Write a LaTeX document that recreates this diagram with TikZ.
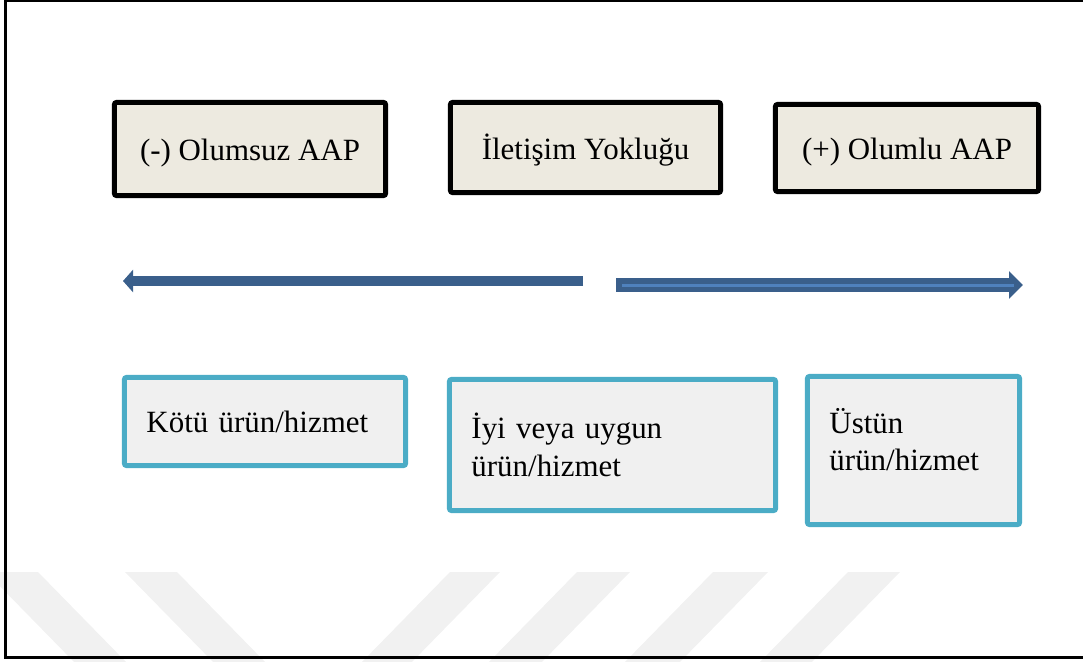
\documentclass[tikz,border=0pt]{standalone}
\usepackage{fontspec}
\setmainfont{Liberation Serif}
\usetikzlibrary{arrows.meta}

\definecolor{topfill}{RGB}{237,234,224}
\definecolor{lowfill}{RGB}{240,240,240}
\definecolor{lowline}{RGB}{75,172,198}
\definecolor{arrowblue}{RGB}{58,95,139}
\definecolor{arrowlight}{RGB}{79,129,189}
\definecolor{wmgray}{RGB}{241,241,241}

\tikzset{
  boxfont/.style={font=\fontsize{22}{27}\selectfont},
  topbox/.style={draw=black, line width=0.125cm, fill=topfill, rounded corners=0.05cm, boxfont, inner sep=0pt, text height=17pt, text depth=0pt},
  lowbox/.style={draw=lowline, line width=0.125cm, fill=lowfill, rounded corners=0.05cm, boxfont, align=left, inner xsep=0.55cm, inner ysep=0pt},
  stripe/.style={fill=wmgray, draw=none},
  leftarrow/.style={draw=arrowblue, line width=0.25cm, -{Triangle[width=0.55cm, length=0.25cm]}},
  rightarrow/.style={draw=arrowblue, line width=0.35cm, -{Triangle[width=0.675cm, length=0.35cm]}},
  innerline/.style={draw=arrowlight, line width=0.075cm},
}

\begin{document}
\begin{tikzpicture}[x=0.025cm, y=-0.025cm]

\path[use as bounding box] (0,0) rectangle (1083,662);

% Watermark
\begin{scope}
\clip (0,0) rectangle (1083,662);
\fill[stripe] (-14,572) -- (38,572) -- (128,664) -- (76,664) -- cycle;
\fill[stripe] (125,572) -- (177,572) -- (267,664) -- (215,664) -- cycle;
\fill[stripe] (450,572) -- (500,572) -- (410,664) -- (360,664) -- cycle;
\fill[stripe] (577,572) -- (630,572) -- (540,664) -- (487,664) -- cycle;
\fill[stripe] (713,572) -- (768,572) -- (678,664) -- (623,664) -- cycle;
\fill[stripe] (848,572) -- (900,572) -- (810,664) -- (758,664) -- cycle;
\end{scope}

% Frame
\draw[line width=0.045cm] (5,0.9) -- (1083,0.9);
\draw[line width=0.075cm] (5.5,0) -- (5.5,659);
\draw[line width=0.075cm] (4,657.5) -- (1083,657.5);

% Top boxes
\node[topbox, minimum width=6.775cm, minimum height=2.325cm] (neg) at (250,149) {(-) Olumsuz AAP};
\node[topbox, minimum width=6.75cm, minimum height=2.25cm] (none) at (585.5,147.5) {İletişim Yokluğu};
\node[topbox, minimum width=6.575cm, minimum height=2.175cm] (pos) at (907,148) {(+) Olumlu AAP};

% Arrows
\coordinate (lstart) at (583,281);
\coordinate (lend) at (123,281);
\coordinate (rstart) at (616,285);
\coordinate (rend) at (1023,285);
\coordinate (rinstart) at (622,285);
\coordinate (rinend) at (1014,285);
\draw[leftarrow] (lstart) -- (lend);
\draw[rightarrow] (rstart) -- (rend);
\draw[innerline] (rinstart) -- (rinend);

% Bottom boxes
\node[lowbox, text width=5.925cm, minimum height=2.2cm] (bad) at (265,421.5) {Kötü ürün/hizmet};
\node[lowbox, text width=7.05cm, minimum height=3.275cm] (good) at (612.5,445) {İyi veya uygun\\ürün/hizmet};
\node[lowbox, text width=4.2cm, minimum height=3.7cm, text depth=1.5cm] (best) at (913.5,450.5) {Üstün\\ürün/hizmet};

\end{tikzpicture}
\end{document}
